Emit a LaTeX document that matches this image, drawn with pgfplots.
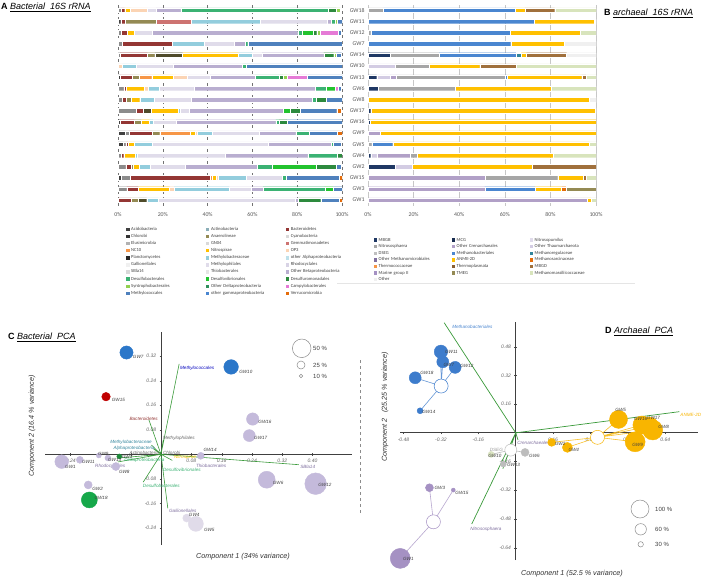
\documentclass[border=0pt]{standalone}
\usepackage{fontspec}
\setmainfont{Liberation Sans}
\newfontfamily\carl{Carlito}
\usepackage{pgfplots}
\usepackage{pgfplotstable}
\pgfplotsset{compat=1.18}
\newcommand\fs[1]{\fontsize{#1}{#1}\selectfont}

% bacterial bar colours
\definecolor{cAcid}{HTML}{404040}
\definecolor{cGray}{HTML}{8C8C8C}
\definecolor{cBact}{HTML}{943634}
\definecolor{cOlive}{HTML}{948A54}
\definecolor{cDkol}{HTML}{4F4B2A}
\definecolor{cRose}{HTML}{CD7371}
\definecolor{cOrng}{HTML}{F79646}
\definecolor{cYell}{HTML}{FFC000}
\definecolor{cPeach}{HTML}{FBD4B4}
\definecolor{cLtbl}{HTML}{93CDDD}
\definecolor{cLtgr}{HTML}{E0DCEA}
\definecolor{cLav}{HTML}{B9AED0}
\definecolor{cGrn}{HTML}{3BB273}
\definecolor{cBgrn}{HTML}{22C32E}
\definecolor{cDkgr}{HTML}{2D8A3E}
\definecolor{cLgrn}{HTML}{92D050}
\definecolor{cPink}{HTML}{E57AD6}
\definecolor{cBlue}{HTML}{4F81BD}
\definecolor{cVerr}{HTML}{E46C0A}
% archaeal bar colours
\definecolor{aNavy}{HTML}{1F3864}
\definecolor{aLtlav}{HTML}{D3CCE3}
\definecolor{aLav}{HTML}{B1A0C7}
\definecolor{aGray}{HTML}{A6A6A6}
\definecolor{aBlue}{HTML}{4A86D0}
\definecolor{aTeal}{HTML}{31859C}
\definecolor{aYell}{HTML}{FFC000}
\definecolor{aVerr}{HTML}{E46C0A}
\definecolor{aBrown}{HTML}{A0703C}
\definecolor{aOlive}{HTML}{948A54}
\definecolor{aPg}{HTML}{D8E4BC}
\definecolor{aOther}{HTML}{F0F0F0}
% pca colours
\definecolor{pBlue}{HTML}{2B77C9}
\definecolor{pRed}{HTML}{C00000}
\definecolor{pGrn}{HTML}{16A84A}
\definecolor{pDg}{HTML}{1D8A3A}
\definecolor{pLav}{HTML}{C4BADB}
\definecolor{pLl}{HTML}{E0DBE9}
\definecolor{vec}{HTML}{3A9A3A}
\definecolor{dBlue}{HTML}{3D7CCC}
\definecolor{dYel}{HTML}{F8B500}
\definecolor{dPur}{HTML}{A591C3}
\definecolor{dGray}{HTML}{BDBDBD}
\definecolor{dPg}{HTML}{D9E3C0}
\definecolor{labpur}{HTML}{7F6F9F}

% GW1 ... GW18 in the chart's row order, bottom to top
\pgfplotstableread{
y acid gray bact olive dkol rose orng yell peach ltbl ltgr lav grn bgrn dkgr lgrn pink blue verr
1  0   0   5.7  3.4 3.7  0    0    0    0   5.2  61   1.5  0    0    10  0   0   8.2  1.3
2  0   3.9 5.2  0   0    0    0    13.9 2   24.6 10   5.2  27.6 3.7  0   0   0   4.2  0
3  1.5 3.9 35.8 0   0    0    1    1.5  1   12.7 16   0    1.5  0    0   0   0   23.8 1.3
4  0   3.4 2.5  1   0    0    0    2.7  0   4.8  15.6 32   6.7  19.8 9   0   0   2.2  0
5  0   1.5 1    0   0    0    0    5.2  0   1    39   37   13   0    2.2 0   0   0    0
6  2.4 1   1    0   0    0    0    3    0   7.8  52   28   1    0    0   0   0   3.5  0
7  3.3 1.5 10.4 3.4 0    0    13.7 2.2  1   6.4  21   16.4 6    0    0   0   0   12.7 2
8  1   0   6.4  3   0    0    0    3.7  0   1.5  10.4 44.4 1.5  0    3.5 0   0   24.6 0
9  0   8   3.4  0   3.3  0    0    12   0   1    4    42   0    3    4.5 0   0   16.4 2
10 0   2   1.5  2.5 0    0    0    3.7  0   6.4  16.4 54   2    0    4.5 0   0   7    0
11 0   2.5 1    0   0    0    0    8    2   5    15.6 54   5    3.7  0   0   1.5 1.5  0
12 1   0   5.5  3   0    0    5.5  9.7  6   0    10.4 20   11   0    1.5 2   9   15.4 0
13 0   0   0    0   0    0    0    0    2   6    16.6 31   1.5  0    0   0   0   43   0
14 0   1   12   3.4 12.4 0    0    25   0   6    4.5  27.5 0    0    4.5 1   0   2.5  0
15 0   2   22   0   0    0    0    0    0   14.5 13.4 5    1    0    0   0   0   42   0
16 0   1.5 2.7  0   0    0    0    3    0   0    8    65   2    5    1.5 1.5 8   1.5  0
17 1.2 0   2    14  0    15.6 0    0    0   30.7 30   1.5  2    0    0   1   0   2    0
18 0   1.5 1.5  0   0    0    0    2.5  7.5 0    4    11   66   0    3.3 2   0   0    0
}\tabA

\pgfplotstableread{
y navy ltlav lav gray blue teal yell verr brown olive pg other
1  0    0    96.2 0    0    0   1.5  0   0    0    2.3  0
2  0    0    51.3 0    21.9 0   11.7 1.9 0    13.2 0    0
3  0    0    51.5 31.7 0    0   11.3 0   1.2  0    4.3  0
4  11.8 7.7  0    0    0    0   52.5 0   28   0    0    0
5  1.2  2.6  14.6 3.2  0    0   59.6 0   0    0    18.8 0
6  0    0    0    1.6  9.2  0   86.3 0   0    0    2.9  0
7  0    0    5.3  0    0    0   94.7 0   0    0    0    0
8  0.8  0    0    0    0    0   99.2 0   0    0    0    0
9  1.2  0    0    0    0    0   98.4 0   0    0    0    0.4
10 0    0    0    0    0    0   97   0   0    0    0    3
11 4.5  0    0    33.6 0    0   42.4 0   0    0    19.5 0
12 3.8  5.9  2.6  47.8 1    0   32.6 0   1.8  0    4.5  0
13 0    11.8 0    15   0    0   22.2 0   15.8 0    35.2 0
14 9.6  0    0    21.6 33.6 2.5 2.2  0   17.6 0    0    12.9
15 0    0    0    0    62.6 0   23.4 0   0    0    0    14
16 0    0    0    1.2  61   0   31   0   0    0    6.8  0
17 0    0    0    0    73   0   26.2 0.6 0    0    0    0.2
18 0    0    0    6.7  57.8 0   4.4  0   13   0    18.1 0
}\tabB

\pgfplotsset{
  barax/.style={anchor=south west, scale only axis, height=201pt,
    xbar stacked, bar width=4.5pt, xmin=0, xmax=100, ymin=0.5, ymax=18.5,
    xtick={0,20,...,100},
    /pgf/number format/assume math mode=true,
    xticklabel={\pgfmathprintnumber{\tick}\%},
    axis line style={draw=none}, major tick length=0pt,
    xticklabel style={yshift=-3pt},
    tick label style={font=\carl\fs{5.8}, text=black!65},
    every axis plot/.append style={draw=white, line width=0.2pt}},
  legax/.style={anchor=north west, scale only axis, width=1pt, height=1pt, hide axis,
    xmin=0, xmax=1, ymin=0, ymax=1, legend columns=3, legend cell align=left,
    legend image code/.code={\fill[##1] (0pt,-1.2pt) rectangle (2.4pt,1.2pt);},
    legend style={at={(0,1)}, anchor=north west, draw=none, fill=none,
      font=\carl\fs{4.6}, text=black!75, column sep=0pt,
      /tikz/every odd column/.append style={column sep=2.2pt}}},
  bub/.style={only marks, mark=*, scatter, point meta=\thisrow{r},
    scatter/use mapped color={draw=#1, fill=#1},
    visualization depends on={value \thisrow{r}\as\rr},
    scatter/@pre marker code/.append style={/tikz/mark size=\rr}},
  lab/.style={draw=none, mark=none, nodes near coords, point meta=explicit symbolic,
    visualization depends on={value \thisrow{dx}\as\dx},
    visualization depends on={value \thisrow{dy}\as\dy},
    every node near coord/.append style={anchor=west, inner sep=0pt,
      xshift=\dx pt, yshift=\dy pt, font=\fs{4.6}\itshape, text=black!75}},
  pca/.style={anchor=south west, scale only axis, clip=false,
    axis lines=middle, axis line style={-, draw=black!75, line width=0.7pt},
    tick style={black!70}, major tick length=2.5pt,
    tick label style={font=\fs{5}\itshape, text=black!60},
    unbounded coords=jump},
}

\begin{document}
\begin{tikzpicture}
\path[use as bounding box, fill=white] (0pt,0pt) rectangle (708pt,-581pt);

% ---------- A: bacterial bars
\begin{axis}[barax, at={(118pt,-205.6pt)}, width=224pt, ytick=\empty,
  xmajorgrids, grid style={dashed, black!55, line width=0.4pt}]
\foreach \c/\k in {acid/cAcid,gray/cGray,bact/cBact,olive/cOlive,dkol/cDkol,rose/cRose,
  orng/cOrng,yell/cYell,peach/cPeach,ltbl/cLtbl,ltgr/cLtgr,lav/cLav,grn/cGrn,bgrn/cBgrn,
  dkgr/cDkgr,lgrn/cLgrn,pink/cPink,blue/cBlue,verr/cVerr}{
  \edef\tmp{\noexpand\addplot[fill=\k] table[x=\c, y=y]{\noexpand\tabA};}\tmp
}
\end{axis}

% ---------- B: archaeal bars
\begin{axis}[barax, at={(368pt,-205.6pt)}, width=228pt,
  ytick={1,...,18},
  yticklabels={GW1,GW3,GW15,GW2,GW4,GW5,GW9,GW16,GW17,GW8,GW6,GW13,GW10,GW14,GW7,GW12,GW11,GW18},
  xmajorgrids, grid style={black!22, line width=0.5pt}]
\foreach \c/\k in {navy/aNavy,ltlav/aLtlav,lav/aLav,gray/aGray,blue/aBlue,teal/aTeal,
  yell/aYell,verr/aVerr,brown/aBrown,olive/aOlive,pg/aPg,other/aOther}{
  \edef\tmp{\noexpand\addplot[fill=\k] table[x=\c, y=y]{\noexpand\tabB};}\tmp
}
\end{axis}

% ---------- legends
\begin{axis}[legax, at={(123pt,-224.5pt)},
  legend style={row sep=2.3pt, nodes={inner sep=0pt, text height=3.6pt, text depth=1.2pt, text width=73pt, align=left},
    /tikz/every even column/.append style={column sep=1.8pt}}]
\addlegendimage{cAcid}\addlegendentry{Acidobacteria}
\addlegendimage{cLtbl!60!gray}\addlegendentry{Actinobacteria}
\addlegendimage{cBact}\addlegendentry{Bacteroidetes}
\addlegendimage{black!80}\addlegendentry{Chlorobi}
\addlegendimage{cOlive}\addlegendentry{Anaerolineae}
\addlegendimage{black!15}\addlegendentry{Cyanobacteria}
\addlegendimage{black!30}\addlegendentry{Elusimicrobia}
\addlegendimage{black!15}\addlegendentry{GN04}
\addlegendimage{cRose}\addlegendentry{Gemmatimonadetes}
\addlegendimage{cOrng}\addlegendentry{NC10}
\addlegendimage{cYell}\addlegendentry{Nitrospirae}
\addlegendimage{cPeach}\addlegendentry{OP3}
\addlegendimage{black!85}\addlegendentry{Planctomycetes}
\addlegendimage{cLtbl}\addlegendentry{Methylobacteraceae}
\addlegendimage{cLtbl!60}\addlegendentry{other Alphaproteobacteria}
\addlegendimage{black!6}\addlegendentry{Gallionellales}
\addlegendimage{cLtgr}\addlegendentry{Methylophilales}
\addlegendimage{cLtgr!80!cLav}\addlegendentry{Rhodocyclales}
\addlegendimage{black!15}\addlegendentry{SBla14}
\addlegendimage{black!10}\addlegendentry{Thiobacterales}
\addlegendimage{cLav}\addlegendentry{Other Betaproteobacteria}
\addlegendimage{cGrn}\addlegendentry{Desulfobacterales}
\addlegendimage{cBgrn}\addlegendentry{Desulfovibrionales}
\addlegendimage{cDkgr}\addlegendentry{Desulfuromonadales}
\addlegendimage{cLgrn}\addlegendentry{Syntrophobacterales}
\addlegendimage{cGrn!80!black}\addlegendentry{Other Deltaproteobacteria}
\addlegendimage{cPink}\addlegendentry{Campylobacterales}
\addlegendimage{cBlue}\addlegendentry{Methylococcales}
\addlegendimage{aBlue}\addlegendentry{other gammaproteobacteria}
\addlegendimage{cVerr}\addlegendentry{Verrucomicrobia}
\end{axis}

\begin{axis}[legax, at={(370.5pt,-235.2pt)},
  legend style={row sep=1.8pt, nodes={inner sep=0pt, text height=3.6pt, text depth=1.2pt, text width=71pt, align=left},
    /tikz/every even column/.append style={column sep=2pt}}]
\addlegendimage{aNavy}\addlegendentry{MBGB}
\addlegendimage{aNavy!80!black}\addlegendentry{MCG}
\addlegendimage{aLtlav!70}\addlegendentry{Nitrosopumilus}
\addlegendimage{aGray}\addlegendentry{Nitrososphaera}
\addlegendimage{aLav}\addlegendentry{Other Crenarchaeales}
\addlegendimage{aLtlav}\addlegendentry{Other Thaumarchaeota}
\addlegendimage{black!25}\addlegendentry{DSEG}
\addlegendimage{aBlue}\addlegendentry{Methanobacteriales}
\addlegendimage{aTeal}\addlegendentry{Methanoregulaceae}
\addlegendimage{labpur}\addlegendentry{Other Methanomicrobiales}
\addlegendimage{aYell}\addlegendentry{ANME-2D}
\addlegendimage{aVerr}\addlegendentry{Methanosarcinaceae}
\addlegendimage{cOrng}\addlegendentry{Thermococcaceae}
\addlegendimage{aBrown!85!black}\addlegendentry{Thermoplasmata}
\addlegendimage{aBrown}\addlegendentry{MBGD}
\addlegendimage{dPur}\addlegendentry{Marine group II}
\addlegendimage{aOlive}\addlegendentry{TMEG}
\addlegendimage{aPg}\addlegendentry{Methanomassiliicoccaceae}
\addlegendimage{aOther}\addlegendentry{Other}
\end{axis}
\draw[black!10, line width=0.4pt] (337pt,-282.7pt) -- (635pt,-282.7pt);

% ---------- C: bacterial PCA
\begin{axis}[pca, at={(45pt,-545pt)}, width=307pt, height=213pt,
  xmin=-0.306, xmax=0.504, ymin=-0.296, ymax=0.399,
  xtick={-0.24,-0.16,-0.08,0.08,0.16,0.24,0.32,0.40},
  xticklabels={-0.24,{},{},0.08,0.16,0.24,0.32,0.40},
  ytick={-0.24,-0.16,-0.08,0.08,0.16,0.24,0.32},
  yticklabels={-0.24,-0.16,-0.08,0.08,0.16,0.24,0.32}]
\addplot[bub=pLl] table{
x y r
0.068 -0.208 4
0.092 -0.227 7.5
};
\addplot[bub=pLav] table{
x y r
0.242 0.115 6.2
0.233 0.061 6
0.105 -0.005 3.5
0.279 -0.083 8.5
0.408 -0.096 10.8
-0.262 -0.024 6.8
-0.214 -0.018 3.5
-0.119 -0.040 4
-0.192 -0.100 4
-0.164 -0.004 2.5
-0.140 -0.012 3
};
\addplot[bub=pBlue] table{
x y r
-0.091 0.332 6.6
0.185 0.285 7.3
};
\addplot[bub=pRed] table{
x y r
-0.145 0.188 4.3
};
\addplot[bub=pGrn] table{
x y r
-0.189 -0.149 8
};
\addplot[bub=pDg] table{
x y r
-0.110 -0.007 2.5
};
\addplot[vec, line width=0.6pt] table{
x y
0 0
0.048 0.295
nan nan
0 0
-0.032 0.113
nan nan
0 0
0.006 0.047
nan nan
0 0
-0.025 0.030
nan nan
0 0
-0.020 0.018
nan nan
0 0
0.364 -0.034
nan nan
0 0
0.018 -0.176
nan nan
0 0
-0.047 -0.091
nan nan
0 0
-0.114 -0.025
nan nan
0 0
-0.110 -0.012
nan nan
0 0
0.030 -0.020
};
\addplot[lab] table[meta=n]{
x y dx dy n
-0.091 0.332 6.3 -4 GW7
0.185 0.285 8 -5 GW10
-0.145 0.188 5.7 -3 GW15
0.242 0.115 5.6 -2.4 GW16
0.233 0.061 4.7 -2.6 GW17
0.105 -0.005 2.6 6 GW14
0.279 -0.083 6 -3.3 GW6
0.408 -0.096 2.6 -1.7 GW12
-0.262 -0.024 3.3 -5 GW1
-0.214 -0.018 2 -2.3 GW11
-0.110 -0.007 2.4 0 GW3
-0.164 -0.004 -1 1.5 GW9
-0.140 -0.012 0 -1.5 GW13
-0.119 -0.040 3 -5 GW8
-0.192 -0.100 4 -3.5 GW2
-0.189 -0.149 5 1.7 GW18
0.068 -0.208 2 3 GW4
0.092 -0.227 8 -6 GW5
};
\begin{scope}[every node/.style={inner sep=0pt, font=\fs{4.6}\itshape}]
\node[anchor=west, text=blue!75!black] at (axis cs:0.050,0.282) {Methylococcales};
\node[anchor=east, text=cBact] at (axis cs:-0.008,0.116) {Bacteroidetes};
\node[anchor=west, text=black!60] at (axis cs:0.005,0.051) {Methylophilales};
\node[anchor=east, text=aTeal] at (axis cs:-0.024,0.038) {Methylobacteraceae};
\node[anchor=east, text=aTeal] at (axis cs:-0.016,0.018) {Alphaproteobacteria};
\node[anchor=east, text=black!60] at (axis cs:-0.005,0.005) {Actinobacteria};
\node[anchor=west, text=black!60] at (axis cs:0.005,0.005) {Chlorobi};
\node[anchor=west, text=cYell] at (axis cs:0.034,-0.011) {Nitrospirae};
\node[anchor=west, text=labpur] at (axis cs:0.092,-0.038) {Thiobacterales};
\node[anchor=west, text=cGrn] at (axis cs:0.005,-0.050) {Desulfovibrionales};
\node[anchor=west, text=cGrn] at (axis cs:-0.097,-0.021) {Deltaproteobacteria};
\node[anchor=west, text=labpur] at (axis cs:-0.174,-0.038) {Rhodocyclales};
\node[anchor=west, text=cGrn] at (axis cs:-0.048,-0.103) {Desulfobacterales};
\node[anchor=west, text=labpur] at (axis cs:0.021,-0.184) {Gallionellales};
\node[anchor=west, text=labpur] at (axis cs:0.367,-0.041) {SBla14};
\end{scope}
\end{axis}

% ---------- D: archaeal PCA
\begin{axis}[pca, at={(400pt,-560pt)}, width=298pt, height=238pt,
  xmin=-0.495, xmax=0.78, ymin=-0.709, ymax=0.618,
  xtick={-0.48,-0.32,-0.16,0.16,0.32,0.48,0.64},
  ytick={-0.64,-0.48,-0.32,-0.16,0.16,0.32,0.48},
  xticklabels={-0.48,-0.32,-0.16,0.16,0.32,0.48,0.64},
  yticklabels={-0.64,-0.48,-0.32,-0.16,0.16,0.32,0.48}]
% spider lines to group centroids
\addplot[dBlue!80, line width=0.6pt] table{
x y
-0.319 0.261
-0.320 0.452
nan nan
-0.319 0.261
-0.312 0.396
nan nan
-0.319 0.261
-0.259 0.365
nan nan
-0.319 0.261
-0.430 0.307
nan nan
-0.319 0.261
-0.409 0.123
};
\addplot[dYel!85, line width=0.6pt] table{
x y
0.35 -0.025
0.154 -0.053
nan nan
0.35 -0.025
0.221 -0.081
nan nan
0.35 -0.025
0.440 0.075
nan nan
0.35 -0.025
0.511 -0.050
nan nan
0.35 -0.025
0.540 0.044
nan nan
0.35 -0.025
0.572 0.038
nan nan
0.35 -0.025
0.586 0.016
};
\addplot[dPur!80, line width=0.6pt] table{
x y
-0.352 -0.496
-0.369 -0.306
nan nan
-0.352 -0.496
-0.267 -0.319
nan nan
-0.352 -0.496
-0.494 -0.700
};
\addplot[dGray, line width=0.6pt] table{
x y
-0.021 -0.096
-0.105 -0.120
nan nan
-0.021 -0.096
-0.053 -0.174
nan nan
-0.021 -0.096
0.040 -0.109
};
\addplot[bub=dBlue] table{
x y r
-0.320 0.452 6.7
-0.312 0.396 6
-0.259 0.365 6
-0.430 0.307 6
-0.409 0.123 3
};
\addplot[bub=dYel] table{
x y r
0.154 -0.053 4
0.221 -0.081 5
0.440 0.075 9
0.511 -0.050 10
0.540 0.044 9
0.572 0.038 9
0.586 0.016 10
};
\addplot[bub=dPur] table{
x y r
-0.369 -0.306 4
-0.267 -0.319 2
-0.494 -0.700 10
};
\addplot[bub=dGray] table{
x y r
-0.053 -0.174 3
0.040 -0.109 4
};
\addplot[bub=dPg] table{
x y r
-0.105 -0.120 3
};
% group centroids
\addplot[only marks, mark=*, mark size=7pt, mark options={fill=white, draw=dBlue, line width=0.5pt}] coordinates {(-0.319,0.261)};
\addplot[only marks, mark=*, mark size=7pt, mark options={fill=white, draw=dYel, line width=0.5pt}] coordinates {(0.35,-0.025)};
\addplot[only marks, mark=*, mark size=7pt, mark options={fill=white, draw=dPur, line width=0.5pt}] coordinates {(-0.352,-0.496)};
\addplot[only marks, mark=*, mark size=6pt, mark options={fill=white, draw=dGray, line width=0.5pt}] coordinates {(-0.021,-0.096)};
\addplot[vec, line width=0.7pt] table{
x y
0 0
-0.306 0.614
nan nan
0 0
0.70 0.118
nan nan
0 0
-0.188 -0.508
nan nan
0 0
-0.055 -0.200
nan nan
0 0
0.010 -0.040
};
\addplot[lab] table[meta=n]{
x y dx dy n
-0.320 0.452 4 0 GW11
-0.312 0.396 0.6 -2.6 GW7
-0.259 0.365 5 1 GW12
-0.430 0.307 5 4.4 GW18
-0.409 0.123 2 -1 GW14
-0.369 -0.306 5 0 GW3
-0.267 -0.319 2 -2.7 GW15
-0.494 -0.700 2.7 -1 GW1
-0.105 -0.120 -3 -1.4 GW10
-0.053 -0.174 3.5 -1.2 GW13
0.040 -0.109 4 -3.7 GW6
0.154 -0.053 3 -1.7 GW2
0.221 -0.081 1 -2.7 GW4
0.440 0.075 -3.3 9.3 GW5
0.511 -0.050 -3 -3.3 GW9
0.540 0.044 -8 5.7 GW16
0.572 0.038 -2.6 8.3 GW17
0.586 0.016 5.6 2.7 GW8
};
\begin{scope}[every node/.style={font=\fs{8}, text=black!75}]
\node at (axis cs:-0.319,0.261) {A};
\node at (axis cs:0.35,-0.025) {B};
\node at (axis cs:-0.352,-0.496) {C};
\node at (axis cs:-0.021,-0.096) {D};
\end{scope}
\begin{scope}[every node/.style={inner sep=0pt, font=\fs{4.6}\itshape}]
\node[anchor=west, text=aBlue] at (axis cs:-0.272,0.590) {Methanobacteriales};
\node[anchor=west, text=dYel] at (axis cs:0.704,0.099) {ANME-2D};
\node[anchor=west, text=labpur] at (axis cs:-0.195,-0.536) {Nitrososphaera};
\node[anchor=east, text=black!40] at (axis cs:-0.054,-0.093) {DSEG};
\node[anchor=west, text=labpur] at (axis cs:0.006,-0.057) {Crenarchaeales};
\end{scope}
\end{axis}

% ---------- titles, axis titles, size keys
\begin{scope}[every node/.style={inner sep=0pt, anchor=west}]
\node at (1pt,-7pt) {\fs{9}\textbf{A} \underline{\textit{Bacterial\ \ 16S rRNA}}};
\node at (604pt,-13pt) {\fs{9}\textbf{B} \underline{\textit{archaeal\ \ 16S rRNA}}};
\node at (8pt,-337pt) {\fs{9}\textbf{C} \underline{\textit{Bacterial\ \ PCA}}};
\node at (605pt,-331pt) {\fs{9}\textbf{D} \underline{\textit{Archaeal\ \ PCA}}};
\end{scope}
\begin{scope}[every node/.style={inner sep=0pt, font=\fs{7.2}\itshape, text=black!80}]
\node at (243pt,-557pt) {Component 1 (34\% variance)};
\node[rotate=90] at (32pt,-426pt) {Component 2 (16.4 \% variance)};
\node at (572pt,-574pt) {Component 1 (52.5 \% variance)};
\node[rotate=90] at (385pt,-407pt) {Component 2\ \ \ (25.25 \% variance)};
\end{scope}
\draw[dashed, black!45, line width=0.5pt] (360pt,-360pt) -- (360pt,-513pt);
\begin{scope}[black!45, line width=0.5pt]
\draw (301.7pt,-348.3pt) circle (9.3pt);
\draw (301pt,-365pt) circle (4pt);
\draw (301pt,-376pt) circle (1.7pt);
\draw (640pt,-509pt) circle (9pt);
\draw (640.7pt,-529.3pt) circle (5.7pt);
\draw (640.7pt,-544.3pt) circle (2.7pt);
\end{scope}
\begin{scope}[every node/.style={inner sep=0pt, anchor=west, font=\fs{6}, text=black!75}]
\node at (313pt,-348.3pt) {50 \%};
\node at (313pt,-365pt) {25 \%};
\node at (313pt,-376pt) {10 \%};
\node at (655pt,-509pt) {100 \%};
\node at (655pt,-529.3pt) {60 \%};
\node at (655pt,-544.3pt) {30 \%};
\end{scope}
\end{tikzpicture}
\end{document}
